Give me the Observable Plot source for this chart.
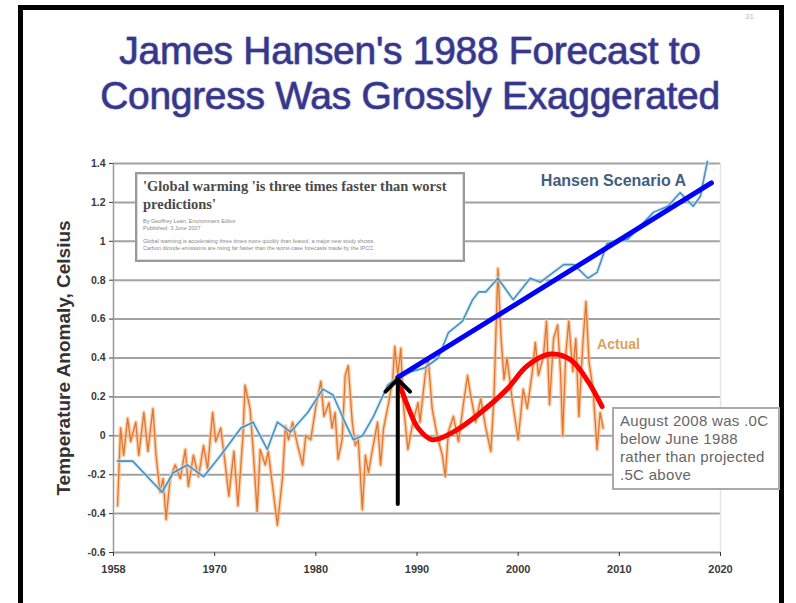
<!DOCTYPE html>
<html><head><meta charset="utf-8">
<script src="https://cdn.jsdelivr.net/npm/d3@7"></script>
<script src="https://cdn.jsdelivr.net/npm/@observablehq/plot@0.6"></script>
<style>
body{margin:0;background:#fff;width:796px;height:603px;overflow:hidden;position:relative;font-family:"Liberation Sans",Arial,sans-serif}
#frame{position:absolute;left:18px;top:5px;width:756px;height:640px;border:5px solid #000;}
#title{position:absolute;left:0;width:820px;top:28px;text-align:center;font-size:39px;line-height:45px;color:#37378a;-webkit-text-stroke:0.5px #37378a;letter-spacing:-0.3px;text-shadow:0 0 2px #9a9ad0;}
#chart{position:absolute;left:0;top:140px}
#inset{position:absolute;left:135px;top:172px;width:326px;height:86px;border:2px solid #9a9a9a;background:#fff;box-shadow:inset 0 0 0 1px #ddd;}
#inset .hd{position:absolute;left:6px;top:3px;font-family:"Liberation Serif",serif;font-weight:bold;font-size:14.5px;line-height:18px;color:#4a4a4a;white-space:nowrap}
#inset .sm{position:absolute;left:6px;font-size:5.5px;line-height:6.5px;color:#888;white-space:nowrap}
#note{position:absolute;left:612px;top:407px;width:158px;height:76px;border:2px solid #aaa;background:#fff;padding:3px 0 0 6px;font-size:15px;letter-spacing:0.3px;line-height:18px;color:#666;white-space:nowrap}
#slide{position:absolute;left:745px;top:12px;font-size:8px;color:#bbb}
</style></head>
<body>
<div id="frame"></div>
<div id="slide">31</div>
<div id="title">James Hansen's 1988 Forecast to<br>Congress Was Grossly Exaggerated</div>
<div id="chart"></div>
<div id="inset">
  <div class="hd">'Global warming 'is three times faster than worst<br>predictions'</div>
  <div class="sm" style="top:44px">By Geoffrey Lean, Environment Editor<br>Published: 3 June 2007</div>
  <div class="sm" style="top:64px">Global warming is accelerating three times more quickly than feared, a major new study shows.<br>Carbon dioxide emissions are rising far faster than the worst-case forecasts made by the IPCC.</div>
</div>
<div id="note">August 2008 was .0C<br>below June 1988<br>rather than projected<br>.5C above</div>
<script>
// x tick positions (equally spaced) and their printed labels
const xTicks = [1960, 1970, 1980, 1990, 2000, 2010, 2020];
const xTickLabels = ["1958", "1970", "1980", "1990", "2000", "2010", "2020"];
const yTicks = [1.4, 1.2, 1.0, 0.8, 0.6, 0.4, 0.2, 0, -0.2, -0.4, -0.6];
const yTickLabels = ["1.4", "1.2", "1", "0.8", "0.6", "0.4", "0.2", "0", "-0.2", "-0.4", "-0.6"];

// Actual temperature anomaly
const actualYears = [1960.4,1960.7,1961.0,1961.4,1961.7,1962.2,1962.5,1963.0,1963.4,1963.9,1964.2,1964.6,1964.9,1965.2,1965.6,1966.1,1966.6,1967.1,1967.4,1967.9,1968.4,1968.9,1969.3,1969.8,1970.1,1970.6,1971.1,1971.4,1971.9,1972.3,1972.8,1973.0,1973.5,1973.8,1974.2,1974.5,1975.0,1975.3,1975.8,1976.2,1976.7,1977.0,1977.3,1977.7,1978.2,1978.7,1979.0,1979.5,1980.0,1980.5,1980.8,1981.3,1981.6,1981.9,1982.2,1982.6,1982.9,1983.2,1983.6,1983.9,1984.2,1984.6,1984.9,1985.2,1985.6,1986.1,1986.4,1986.7,1987.2,1987.6,1987.8,1988.1,1988.4,1988.6,1989.1,1989.6,1990.1,1990.3,1990.8,1991.1,1991.5,1992.0,1992.5,1992.8,1993.1,1993.6,1994.1,1994.6,1995.0,1995.3,1995.8,1996.3,1996.8,1997.3,1997.6,1998.0,1998.3,1998.6,1998.9,1999.4,2000.0,2000.5,2000.9,2001.4,2001.7,2002.0,2002.5,2002.8,2003.1,2003.5,2003.9,2004.2,2004.4,2004.7,2005.0,2005.4,2005.7,2006.0,2006.4,2006.7,2007.0,2007.4,2007.8,2008.1,2008.4];
const actualTemps = [-0.36,0.04,-0.10,0.09,-0.03,0.07,-0.10,0.12,-0.08,0.14,-0.10,-0.29,-0.22,-0.43,-0.22,-0.15,-0.22,-0.07,-0.26,-0.10,-0.21,-0.05,-0.17,0.12,-0.03,0.04,-0.17,-0.31,-0.08,-0.36,0.00,0.26,0.14,-0.07,-0.39,-0.07,-0.15,-0.08,-0.29,-0.46,-0.22,0.05,-0.02,0.07,-0.05,-0.15,0.00,-0.02,0.15,0.28,0.10,0.17,0.04,0.12,-0.12,-0.02,0.31,0.36,0.07,-0.05,-0.02,-0.38,-0.10,-0.19,-0.07,0.07,-0.15,0.04,0.17,0.29,0.46,0.31,0.45,0.19,-0.07,0.07,0.17,0.07,0.31,0.40,0.14,0.00,-0.10,-0.21,0.02,0.10,-0.03,0.17,0.31,0.21,0.07,0.19,0.04,-0.08,0.19,0.86,0.51,0.29,0.40,0.19,-0.02,0.24,0.14,0.33,0.48,0.31,0.41,0.59,0.16,0.50,0.57,0.31,0.00,0.41,0.59,0.33,0.50,0.10,0.48,0.69,0.38,0.24,-0.07,0.12,0.04];

// Hansen Scenario A
const hansenYears = [1960.4,1961.9,1964.8,1965.9,1967.3,1968.9,1970.6,1972.6,1973.8,1975.2,1976.2,1977.5,1979.2,1980.7,1981.7,1982.7,1983.7,1984.6,1985.7,1987.1,1988.1,1989.4,1990.8,1992.1,1993.1,1994.5,1995.5,1996.1,1996.8,1998.0,1999.5,2001.2,2002.2,2004.5,2005.5,2006.9,2007.8,2008.8,2010.8,2013.4,2014.8,2016.0,2017.3,2018.0,2018.7];
const hansenTemps = [-0.13,-0.13,-0.29,-0.19,-0.15,-0.21,-0.10,0.04,0.07,-0.07,0.07,0.02,0.12,0.24,0.21,0.09,-0.02,0.00,0.10,0.26,0.30,0.33,0.35,0.40,0.53,0.59,0.70,0.74,0.74,0.81,0.70,0.81,0.79,0.88,0.88,0.81,0.84,0.99,1.01,1.15,1.18,1.25,1.18,1.23,1.41];

// Overlaid annotations: straight blue projection, red hand-drawn curve, black arrow
const projYears = [1988.1, 2019.1];
const projTemps = [0.30, 1.30];
const redYears = [1988.1,1989.1,1990.1,1991.5,1993.6,1996.3,1998.9,2000.9,2003.2,2005.2,2006.9,2008.3];
const redTemps = [0.29,0.15,0.04,-0.02,0.02,0.12,0.24,0.36,0.42,0.39,0.28,0.15];
const arrowYear = [1988.1];
const arrowFrom = [-0.35];
const arrowTo = [0.29];

const labels = ["Hansen Scenario A", "Actual"];
const labelYears = [2016.6, 2007.8];
const labelTemps = [1.31, 0.47];

const actual = actualYears.map((x, i) => ({x, y: actualTemps[i]}));
const hansen = hansenYears.map((x, i) => ({x, y: hansenTemps[i]}));
const proj = projYears.map((x, i) => ({x, y: projTemps[i]}));
const red = redYears.map((x, i) => ({x, y: redTemps[i]}));
const arrows = arrowYear.map((x, i) => ({x, y1: arrowFrom[i], y2: arrowTo[i]}));

const chart = Plot.plot({
  width: 796,
  height: 440,
  marginLeft: 113,
  marginRight: 76,
  marginTop: 23,
  marginBottom: 28,
  style: {background: "transparent", fontFamily: "Liberation Sans, Arial, sans-serif"},
  x: {domain: [1960, 2020]},
  y: {domain: [-0.6, 1.4]},
  marks: [
    Plot.ruleY(yTicks, {stroke: "#a2a2a2", strokeWidth: 2}),
    Plot.ruleX([2020], {stroke: "#e4e4e4", strokeWidth: 1.5}),
    Plot.ruleX([1960], {stroke: "#9a9a9a", strokeWidth: 1.5}),
    Plot.axisY({ticks: yTicks, tickFormat: (d, i) => yTickLabels[i], tickSize: 4, tickPadding: 4, fontSize: 10.5, fontWeight: "bold", color: "#3a3a3a", label: null}),
    Plot.axisX({ticks: xTicks, tickFormat: (d, i) => xTickLabels[i], tickSize: 4, tickPadding: 9, fontSize: 11, fontWeight: "bold", color: "#3a3a3a", label: null}),
    Plot.text(["Temperature Anomaly, Celsius"], {frameAnchor: "left", textAnchor: "middle", dx: -50, rotate: -90, fontSize: 19, fontWeight: "bold", fill: "#333"}),
    Plot.line(actual, {x: "x", y: "y", stroke: "#f6bd8e", strokeWidth: 4, strokeOpacity: 0.7}),
    Plot.line(actual, {x: "x", y: "y", stroke: "#e2762e", strokeWidth: 1.3}),
    Plot.line(hansen, {x: "x", y: "y", stroke: "#c4e4f6", strokeWidth: 4, strokeOpacity: 0.6}),
    Plot.line(hansen, {x: "x", y: "y", stroke: "#4a8fbd", strokeWidth: 1.6}),
    Plot.text([0], {x: labelYears[0], y: labelTemps[0], text: () => labels[0], textAnchor: "end", fontSize: 16, fontWeight: "bold", fill: "#3f5f80"}),
    Plot.text([1], {x: labelYears[1], y: labelTemps[1], text: () => labels[1], textAnchor: "start", fontSize: 14, fontWeight: "bold", fill: "#d9a35e"}),
    Plot.line(red, {x: "x", y: "y", curve: "catmull-rom", stroke: "#ff0000", strokeWidth: 5, strokeLinecap: "round"}),
    Plot.line(proj, {x: "x", y: "y", stroke: "#0000ff", strokeWidth: 5}),
    Plot.arrow(arrows, {x1: "x", x2: "x", y1: "y1", y2: "y2", stroke: "#000", strokeWidth: 4, headLength: 6.5, headAngle: 90})
  ]
});
document.getElementById("chart").appendChild(chart);
</script>
</body></html>
